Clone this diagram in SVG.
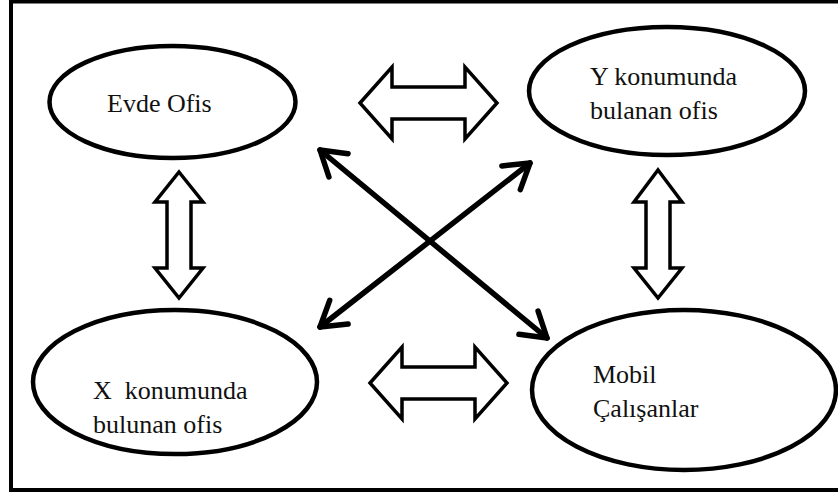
<svg xmlns="http://www.w3.org/2000/svg" width="838" height="495" viewBox="0 0 838 495">
  <style>
    .frame { fill: #ffffff; stroke: #000000; stroke-width: 4; }
    .node ellipse { fill: #ffffff; stroke: #000000; stroke-width: 4.5; }
    .node text { font-family: "Liberation Serif", "Times New Roman", serif; font-size: 26px; fill: #111111; }
    .block { fill: #ffffff; stroke: #000000; stroke-width: 3.5; stroke-linejoin: miter; }
    .link { fill: none; stroke: #000000; stroke-width: 5.5; stroke-linecap: round; }
  </style>
  <defs>
    <marker id="open-head" markerUnits="userSpaceOnUse" viewBox="-30 -20 34 40" refX="0" refY="0" markerWidth="34" markerHeight="40" orient="auto-start-reverse" overflow="visible">
      <path d="M -24 -15 L 0 0 L -24 15" fill="none" stroke="#000000" stroke-width="5.5" stroke-linecap="round" stroke-linejoin="round"/>
    </marker>
  </defs>

  <rect class="frame" x="11" y="1.5" width="840" height="488.5"/>

  <g id="evde-ofis" class="node">
    <ellipse cx="172.5" cy="102" rx="123" ry="56"/>
    <text x="107" y="112">Evde Ofis</text>
  </g>

  <g id="y-ofis" class="node">
    <ellipse cx="667" cy="91" rx="138" ry="64"/>
    <text x="590" y="85">Y konumunda</text>
    <text x="590" y="119">bulanan ofis</text>
  </g>

  <g id="x-ofis" class="node">
    <ellipse cx="175" cy="382" rx="142" ry="72"/>
    <text x="93" y="399" xml:space="preserve">X  konumunda</text>
    <text x="93" y="433">bulunan ofis</text>
  </g>

  <g id="mobil" class="node">
    <ellipse cx="684" cy="390" rx="152" ry="80"/>
    <text x="593" y="383">Mobil</text>
    <text x="593" y="417">Çalışanlar</text>
  </g>

  <g id="connectors">
    <!-- hollow double-headed block arrows between neighbouring nodes -->
    <polygon class="block" points="360,103 392,67 392,87 465,87 465,67 497,103 465,139 465,119 392,119 392,139"/>
    <polygon class="block" points="370,383 402,347 402,367 475,367 475,347 507,383 475,419 475,399 402,399 402,419"/>
    <polygon class="block" points="179,172 203,202 191,202 191,268 203,268 179,298 155,268 167,268 167,202 155,202"/>
    <polygon class="block" points="658,170 682,202 670,202 670,268 682,268 658,298 634,268 646,268 646,202 634,202"/>
    <!-- diagonal two-way links crossing in the middle -->
    <line class="link" x1="320" y1="150" x2="547" y2="338" marker-start="url(#open-head)" marker-end="url(#open-head)"/>
    <line class="link" x1="320" y1="327" x2="530" y2="163" marker-start="url(#open-head)" marker-end="url(#open-head)"/>
  </g>
</svg>
